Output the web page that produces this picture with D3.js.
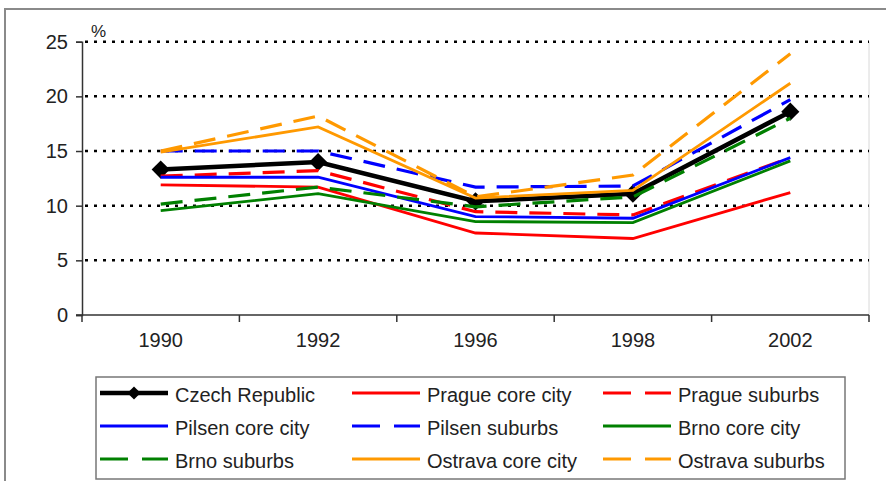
<!DOCTYPE html>
<html>
<head>
<meta charset="utf-8">
<script src="https://cdn.jsdelivr.net/npm/d3@7"></script>
<style>
  body { margin: 0; background: #fff; }
  svg { display: block; font-family: "Liberation Sans", Arial, sans-serif; }
</style>
</head>
<body>
<script>
// years on the x axis
var years = ['1990', '1992', '1996', '1998', '2002'];
var yTicks = [0, 5, 10, 15, 20, 25];

// values, in %
var czechRepublic   = [13.3, 14.0, 10.4, 11.1, 18.6];
var pragueCore      = [11.9, 11.7, 7.5, 7.0, 11.2];
var pragueSuburbs   = [12.7, 13.2, 9.45, 9.15, 14.4];
var pilsenCore      = [12.6, 12.6, 9.0, 8.85, 14.4];
var pilsenSuburbs   = [15.0, 15.0, 11.7, 11.8, 19.7];
var brnoCore        = [9.55, 11.1, 8.55, 8.45, 14.1];
var brnoSuburbs     = [10.15, 11.7, 9.9, 10.8, 18.0];
var ostravaCore     = [14.9, 17.2, 10.7, 11.4, 21.2];
var ostravaSuburbs  = [15.0, 18.2, 10.8, 12.8, 23.9];

var series = [
    {name: 'Czech Republic',     values: czechRepublic,  color: '#000000', dash: null,    width: 4.5, marker: true},
    {name: 'Prague core city',   values: pragueCore,     color: '#ff0000', dash: null,    width: 2.8},
    {name: 'Prague suburbs',     values: pragueSuburbs,  color: '#ff0000', dash: '22,12', width: 3.2},
    {name: 'Pilsen core city',   values: pilsenCore,     color: '#0000ff', dash: null,    width: 2.8},
    {name: 'Pilsen suburbs',     values: pilsenSuburbs,  color: '#0000ff', dash: '22,12', width: 3.2},
    {name: 'Brno core city',     values: brnoCore,       color: '#008000', dash: null,    width: 2.8},
    {name: 'Brno suburbs',       values: brnoSuburbs,    color: '#008000', dash: '22,12', width: 3.2},
    {name: 'Ostrava core city',  values: ostravaCore,    color: '#ff9900', dash: null,    width: 2.8},
    {name: 'Ostrava suburbs',    values: ostravaSuburbs, color: '#ff9900', dash: '22,12', width: 3.2}
];

var W = 886, H = 481;
var plot = {left: 82, right: 869, top: 41.7, bottom: 315};

var svg = d3.select('body').append('svg').attr('width', W).attr('height', H);

// outer frame
svg.append('rect')
    .attr('x', 5).attr('y', 9).attr('width', W + 20).attr('height', H + 20)
    .attr('fill', '#fff').attr('stroke', '#8a8a8a').attr('stroke-width', 2);

var x = d3.scaleBand().domain(years).range([plot.left, plot.right]).padding(0);
var y = d3.scaleLinear().domain([0, 25]).range([plot.bottom, plot.top]);
var cx = function(d){ return x(d) + x.bandwidth() / 2; };

// plot area right edge (light)
svg.append('line')
    .attr('x1', plot.right).attr('x2', plot.right)
    .attr('y1', plot.top).attr('y2', plot.bottom)
    .attr('stroke', '#d8d8d8').attr('stroke-width', 1);

// dotted gridlines
svg.append('g').selectAll('line').data(yTicks.filter(function(d){ return d > 0; })).enter().append('line')
    .attr('x1', plot.left + 3).attr('x2', plot.right)
    .attr('y1', function(d){ return y(d); }).attr('y2', function(d){ return y(d); })
    .attr('stroke', '#000').attr('stroke-width', 2.5).attr('stroke-dasharray', '3,6');

// y axis
var gy = svg.append('g').attr('transform', 'translate(' + plot.left + ',0)')
    .call(d3.axisLeft(y).tickValues(yTicks).tickSize(6).tickPadding(8));
gy.select('.domain').attr('stroke', '#333').attr('stroke-width', 1.5);
gy.selectAll('.tick line').attr('stroke', '#333').attr('stroke-width', 1.5);
gy.selectAll('.tick text').attr('font-size', 20).attr('fill', '#222').attr('font-family', null);

// x axis: labels centred, tick marks on category boundaries
var gx = svg.append('g').attr('transform', 'translate(0,' + plot.bottom + ')')
    .call(d3.axisBottom(x).tickSize(0).tickPadding(18));
gx.select('.domain').remove();
gx.selectAll('.tick text').attr('font-size', 20).attr('fill', '#222').attr('font-family', null);

var bounds = years.map(function(d){ return x(d); }).concat([plot.right]);
svg.append('g').selectAll('line').data(bounds).enter().append('line')
    .attr('x1', function(d){ return d; }).attr('x2', function(d){ return d; })
    .attr('y1', plot.bottom).attr('y2', plot.bottom + 7)
    .attr('stroke', '#333').attr('stroke-width', 1.5);
svg.append('line')
    .attr('x1', plot.left - 6).attr('x2', plot.right)
    .attr('y1', plot.bottom).attr('y2', plot.bottom)
    .attr('stroke', '#333').attr('stroke-width', 1.5);

svg.append('text').attr('x', 91).attr('y', 37).attr('font-size', 17).attr('fill', '#222').text('%');

// lines
var line = d3.line()
    .x(function(d, i){ return cx(years[i]); })
    .y(function(d){ return y(d); });

var diamond = d3.symbol().type(d3.symbolDiamond2).size(210);

series.forEach(function(s){
    svg.append('path')
        .attr('d', line(s.values))
        .attr('fill', 'none')
        .attr('stroke', s.color)
        .attr('stroke-width', s.width)
        .attr('stroke-dasharray', s.dash)
        .attr('stroke-linejoin', 'miter');
    if(s.marker){
        svg.append('g').selectAll('path').data(s.values).enter().append('path')
            .attr('d', diamond)
            .attr('transform', function(d, i){ return 'translate(' + cx(years[i]) + ',' + y(d) + ')'; })
            .attr('fill', s.color);
    }
});

// legend
svg.append('rect')
    .attr('x', 96).attr('y', 377).attr('width', 749).attr('height', 102)
    .attr('fill', '#fff').attr('stroke', '#777').attr('stroke-width', 1.5);

var colX = [100, 352, 603], rowY = [395, 428, 461];
var lg = svg.append('g').selectAll('g').data(series).enter().append('g')
    .attr('transform', function(d, i){ return 'translate(' + colX[i % 3] + ',' + rowY[Math.floor(i / 3)] + ')'; });

lg.append('line')
    .attr('x1', 0).attr('x2', 68).attr('y1', -2).attr('y2', -2)
    .attr('stroke', function(d){ return d.color; })
    .attr('stroke-width', function(d){ return d.width; })
    .attr('stroke-dasharray', function(d){ return d.dash ? '28,14' : null; });

lg.filter(function(d){ return d.marker; }).append('path')
    .attr('d', d3.symbol().type(d3.symbolDiamond2).size(110))
    .attr('transform', 'translate(34,-2)')
    .attr('fill', '#000');

lg.append('text')
    .attr('x', 75).attr('y', 7)
    .attr('font-size', 20).attr('fill', '#222')
    .text(function(d){ return d.name; });
</script>
</body>
</html>
